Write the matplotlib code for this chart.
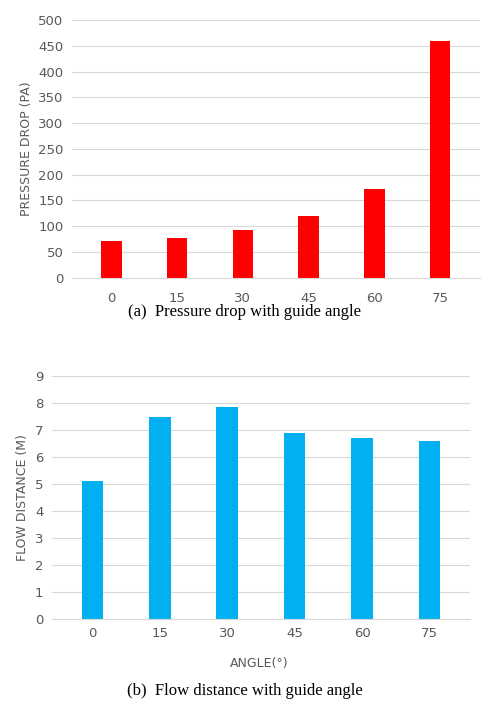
import matplotlib
matplotlib.use("Agg")
import matplotlib.pyplot as plt

angles = ["0", "15", "30", "45", "60", "75"]
pressure_drop = [72, 77, 92, 119, 173, 460]
flow_distance = [5.1, 7.5, 7.85, 6.9, 6.72, 6.6]

TICK = "#595959"
GRID = "#d9d9d9"


def style(ax, ylim, step, ylabel):
    ax.set_ylim(0, ylim)
    ax.set_yticks(range(0, ylim + 1, step))
    ax.set_ylabel(ylabel, color=TICK, fontsize=9, family="DejaVu Sans")
    ax.grid(axis="y", color=GRID, linewidth=0.8)
    ax.set_axisbelow(True)
    for s in ("top", "right", "left"):
        ax.spines[s].set_visible(False)
    ax.spines["bottom"].set_color(GRID)
    ax.tick_params(length=0, colors=TICK, labelsize=9.5, pad=6)
    ax.set_xlim(-0.6, 5.6)


fig = plt.figure(figsize=(4.89, 7.14), dpi=100)
x = range(len(angles))

ax1 = fig.add_axes([0.147, 0.611, 0.834, 0.361])
ax1.bar(x, pressure_drop, width=0.31, color="#ff0000")
ax1.set_xticks(list(x), angles)
ax1.tick_params(axis="x", pad=10)
style(ax1, 500, 50, "PRESSURE DROP (PA)")
ax1.tick_params(axis="x", pad=10)
fig.text(0.5, 0.558, "(a)  Pressure drop with guide angle", ha="center",
         family="Liberation Serif", fontsize=12)

ax2 = fig.add_axes([0.106, 0.133, 0.855, 0.340])
ax2.bar(x, flow_distance, width=0.32, color="#00b0f0")
ax2.set_xticks(list(x), angles)
style(ax2, 9, 1, "FLOW DISTANCE (M)")
fig.text(0.53, 0.066, "ANGLE(°)", ha="center", color=TICK, fontsize=9)
fig.text(0.5, 0.027, "(b)  Flow distance with guide angle", ha="center",
         family="Liberation Serif", fontsize=12)

fig.savefig("out.png", dpi=100, facecolor="white")
